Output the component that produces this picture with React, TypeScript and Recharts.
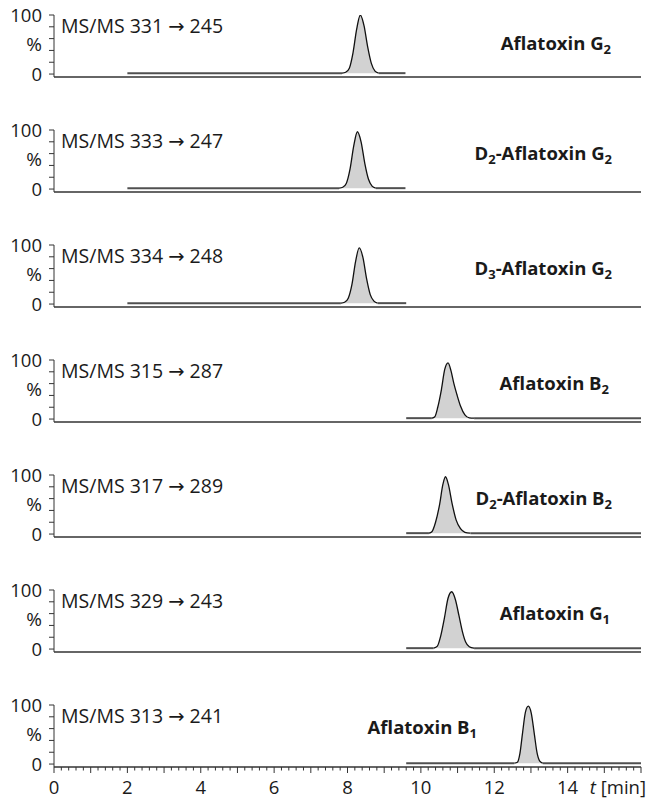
import { Area, ComposedChart, Line, XAxis, YAxis } from "recharts"

const W = 652
const PANEL_H = 115
const LAST_H = 111
const FONT = "'Open Sans', 'DejaVu Sans', sans-serif"
const FONT_SIZE = 18.5

// retention time axis, min
const T_DOMAIN = [0, 16]
const timeLabels = [0, 2, 4, 6, 8, 10, 12, 14]
const timeTicks = Array.from({ length: 81 }, (_, i) => Math.round(i * 2) / 10)

// relative intensity, %
const yTicks = [0, 20, 40, 60, 80, 100]
const yLabels = [0, 100]
const BASELINE = 1.5

const transitions = [
  "MS/MS 331 → 245",
  "MS/MS 333 → 247",
  "MS/MS 334 → 248",
  "MS/MS 315 → 287",
  "MS/MS 317 → 289",
  "MS/MS 329 → 243",
  "MS/MS 313 → 241",
]

// [text, subscript?]
const compounds: [string, boolean][][] = [
  [["Aflatoxin G", false], ["2", true]],
  [["D", false], ["2", true], ["-Aflatoxin G", false], ["2", true]],
  [["D", false], ["3", true], ["-Aflatoxin G", false], ["2", true]],
  [["Aflatoxin B", false], ["2", true]],
  [["D", false], ["2", true], ["-Aflatoxin B", false], ["2", true]],
  [["Aflatoxin G", false], ["1", true]],
  [["Aflatoxin B", false], ["1", true]],
]
const compoundRight = [611, 612, 612, 609, 612, 610, 477]
const compoundY = [50, 45, 45, 45, 45, 45, 44]

// chromatogram traces, [t (min), intensity (%)]
const traceG2 = [
  [2.0, 1.5], [7.85, 1.5], [7.95, 3], [8.05, 10], [8.15, 36], [8.25, 76], [8.35, 100],
  [8.45, 82], [8.55, 46], [8.65, 18], [8.75, 5], [8.85, 1.5], [9.58, 1.5],
]
const traceD2G2 = [
  [2.0, 1.5], [7.77, 1.5], [7.87, 3], [7.97, 10], [8.07, 34], [8.17, 73], [8.27, 97],
  [8.37, 80], [8.47, 44], [8.57, 17], [8.67, 5], [8.77, 1.5], [9.58, 1.5],
]
const traceD3G2 = [
  [2.0, 1.5], [7.82, 1.5], [7.92, 3], [8.02, 10], [8.12, 33], [8.22, 72], [8.32, 95],
  [8.42, 79], [8.52, 43], [8.62, 16], [8.72, 5], [8.82, 1.5], [9.6, 1.5],
]
const traceB2 = [
  [9.6, 1.5], [10.3, 1.5], [10.38, 4], [10.46, 20], [10.56, 50], [10.65, 84], [10.74, 95],
  [10.82, 82], [10.9, 60], [10.98, 42], [11.08, 22], [11.2, 7], [11.32, 2], [11.45, 1.5], [16, 1.5],
]
const traceD2B2 = [
  [9.6, 1.5], [10.22, 1.5], [10.3, 4], [10.4, 20], [10.51, 50], [10.6, 84], [10.67, 97],
  [10.75, 84], [10.85, 52], [10.96, 24], [11.08, 9], [11.2, 3], [11.35, 1.5], [16, 1.5],
]
const traceG1 = [
  [9.6, 1.5], [10.35, 1.5], [10.45, 5], [10.54, 22], [10.64, 52], [10.74, 86], [10.84, 97],
  [10.94, 84], [11.04, 56], [11.13, 30], [11.22, 12], [11.32, 4], [11.45, 1.5], [16, 1.5],
]
const traceB1 = [
  [9.6, 1.5], [12.55, 1.5], [12.63, 3], [12.7, 18], [12.77, 52], [12.85, 88], [12.93, 98],
  [13.01, 86], [13.09, 52], [13.17, 18], [13.24, 5], [13.32, 1.5], [16, 1.5],
]
const traces = [traceG2, traceD2G2, traceD3G2, traceB2, traceD2B2, traceG1, traceB1]

const IntensityTick = (props: any) => {
  const { x, y, payload } = props
  const v = payload.value
  return (
    <g>
      <line x1={x - 5} x2={x} y1={y} y2={y} stroke="#333" strokeWidth={1} />
      {yLabels.includes(v) && (
        <text x={x - 12} y={y + 6.5} textAnchor="end" fontFamily={FONT} fontSize={FONT_SIZE} fill="#1a1a1a">
          {v}
        </text>
      )}
    </g>
  )
}

const TimeTick = (props: any) => {
  const { x, y, payload } = props
  const v = payload.value
  const whole = Math.abs(v - Math.round(v)) < 1e-6
  return (
    <g>
      <line x1={x} x2={x} y1={y} y2={y + (whole ? 6 : 3.5)} stroke="#333" strokeWidth={1} />
      {whole && timeLabels.includes(Math.round(v)) && (
        <text x={x} y={y + 27} textAnchor="middle" fontFamily={FONT} fontSize={FONT_SIZE} fill="#1a1a1a">
          {Math.round(v)}
        </text>
      )}
      {whole && Math.round(v) === T_DOMAIN[1] && (
        <text x={x + 5} y={y + 27} textAnchor="end" fontFamily={FONT} fontSize={FONT_SIZE} fill="#1a1a1a">
          <tspan fontStyle="italic">t</tspan> [min]
        </text>
      )}
    </g>
  )
}

function Panel({ index }: { index: number }) {
  const last = index === traces.length - 1
  const data = traces[index].map(([t, v]) => ({ t, v }))
  // flat stretches either side of the peak, and the peak itself
  const leadIn = data.slice(0, 2)
  const tail = data.slice(-2)
  const peak = data.slice(1, -1)
  return (
    <ComposedChart
      width={W}
      height={last ? LAST_H : PANEL_H}
      margin={{ top: 15, right: 11, bottom: 0, left: 0 }}
    >
      <XAxis
        type="number"
        dataKey="t"
        domain={T_DOMAIN}
        allowDataOverflow
        ticks={last ? timeTicks : []}
        tick={last ? <TimeTick /> : false}
        tickLine={false}
        tickSize={0}
        tickMargin={0}
        interval={0}
        height={last ? 34 : 38}
        axisLine={{ stroke: "#333", strokeWidth: 1.5 }}
      />
      <YAxis
        type="number"
        domain={[-5, 100]}
        allowDataOverflow
        ticks={yTicks}
        tick={<IntensityTick />}
        tickLine={false}
        tickSize={0}
        tickMargin={0}
        interval={0}
        width={54}
        axisLine={{ stroke: "#333", strokeWidth: 1 }}
      />
      <Line data={leadIn} dataKey="v" type="linear" stroke="#505050" strokeWidth={2} dot={false} isAnimationActive={false} />
      <Line data={tail} dataKey="v" type="linear" stroke="#505050" strokeWidth={2} dot={false} isAnimationActive={false} />
      <Area
        data={peak}
        dataKey="v"
        type="monotone"
        baseValue={BASELINE}
        stroke="#111"
        strokeWidth={1.3}
        fill="#d2d2d2"
        fillOpacity={1}
        dot={false}
        activeDot={false}
        isAnimationActive={false}
      />
    </ComposedChart>
  )
}

function Labels() {
  return (
    <svg
      width={W}
      height={801}
      style={{ position: "absolute", left: 0, top: 0, pointerEvents: "none" }}
    >
      {transitions.map((label, i) => {
        const top = i * PANEL_H
        return (
          <g key={label} fontFamily={FONT} fontSize={FONT_SIZE} fill="#1a1a1a">
            <text x={61} y={top + 33} fontSize={19.5}>{label}</text>
            <text x={34} y={top + 51} textAnchor="middle" fontSize={19}>%</text>
            <text x={compoundRight[i]} y={top + compoundY[i]} textAnchor="end" fontWeight="bold">
              {compounds[i].map(([part, sub], j) => {
                const prevSub = j > 0 && compounds[i][j - 1][1]
                return (
                  <tspan
                    key={j}
                    fontSize={sub ? 13 : FONT_SIZE}
                    dy={sub ? 4 : prevSub ? -4 : 0}
                  >
                    {part}
                  </tspan>
                )
              })}
            </text>
          </g>
        )
      })}
    </svg>
  )
}

export default function App() {
  return (
    <div style={{ position: "absolute", left: 0, top: 0, width: W, height: 801, background: "#fff" }}>
      {traces.map((_, i) => (
        <div key={i} style={{ position: "absolute", left: 0, top: i * PANEL_H }}>
          <Panel index={i} />
        </div>
      ))}
      <Labels />
    </div>
  )
}
